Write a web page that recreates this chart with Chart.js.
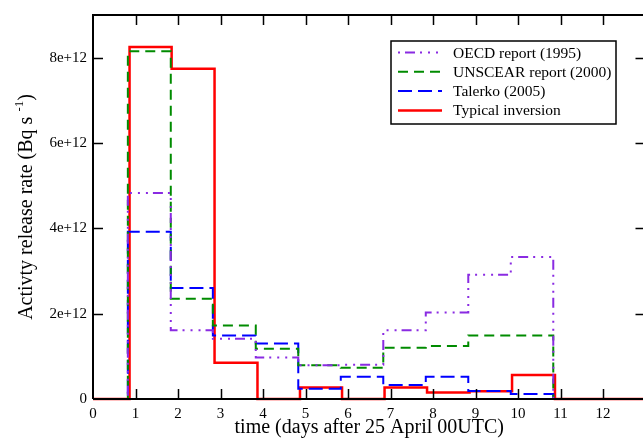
<!DOCTYPE html>
<html>
<head>
<meta charset="utf-8">
<script src="https://cdn.jsdelivr.net/npm/chart.js@4"></script>
<style>
  html, body { margin: 0; padding: 0; background: #fff; overflow: hidden; }
  #wrap { width: 643px; height: 439px; overflow: hidden; }
  canvas { display: block; }
</style>
</head>
<body>
<div id="wrap"><canvas id="c" width="650" height="439"></canvas></div>
<script>
// ---- data (release rates in units of 1e12 Bq/s, per daily bin) ----
const binEdges       = [0, 0.82, 1.83, 2.82, 3.83, 4.83, 5.83, 6.83, 7.83, 8.83, 9.83, 10.83, 13];
const inversionEdges = [0, 0.86, 1.85, 2.86, 3.87, 4.87, 5.86, 6.86, 7.86, 8.86, 9.86, 10.87, 13];
const oecdValues      = [0, 4.83, 1.61, 1.41, 0.97, 0.79, 0.80, 1.61, 2.03, 2.91, 3.33, 0, 0];
const unscearValues   = [0, 8.15, 2.35, 1.72, 1.18, 0.79, 0.73, 1.20, 1.24, 1.49, 1.49, 0, 0];
const talerkoValues   = [0, 3.92, 2.60, 1.49, 1.30, 0.24, 0.52, 0.33, 0.52, 0.19, 0.12, 0, 0];
const inversionValues = [0, 8.25, 7.74, 0.85, 0.00, 0.27, 0.00, 0.27, 0.15, 0.18, 0.56, 0, 0];
const seriesLabels = ['OECD report (1995)', 'UNSCEAR report (2000)', 'Talerko (2005)', 'Typical inversion'];
const xTickValues = [0,1,2,3,4,5,6,7,8,9,10,11,12];
const yTickValues = [0, 2e12, 4e12, 6e12, 8e12];
const yTickLabels = ['0', '2e+12', '4e+12', '6e+12', '8e+12'];
const xTitle = 'time (days after 25 April 00UTC)';
const yTitleMain = 'Activty release rate (Bq s';
const yTitleSup = '-1';
const yTitleEnd = ')';

const SCALE = 1e12;
// value i holds on the interval [edge i, edge i+1]
function pts(edges, vals) {
  return edges.map((x, i) => ({ x: x, y: vals[i] * SCALE }));
}

const SERIF = '"Liberation Serif", "Times New Roman", serif';

const framePlugin = {
  id: 'frame',
  afterDraw(chart) {
    const ctx = chart.ctx;
    const a = chart.chartArea;
    const xs = chart.scales.x, ys = chart.scales.y;
    ctx.save();
    ctx.strokeStyle = '#000';
    ctx.lineWidth = 2;
    ctx.beginPath();
    ctx.moveTo(a.left, a.bottom); ctx.lineTo(a.left, a.top); ctx.lineTo(a.right, a.top); ctx.lineTo(a.right, a.bottom); ctx.lineTo(a.left, a.bottom);
    ctx.stroke();
    ctx.lineWidth = 1.5;
    ctx.beginPath();
    xTickValues.forEach(v => {
      const px = Math.round(xs.getPixelForValue(v)) + 0.5;
      if (v === 0) return;
      ctx.moveTo(px, a.bottom); ctx.lineTo(px, a.bottom - 10);
      ctx.moveTo(px, a.top); ctx.lineTo(px, a.top + 10);
    });
    yTickValues.forEach(v => {
      const py = Math.round(ys.getPixelForValue(v)) + 0.5;
      if (v === 0) return;
      ctx.moveTo(a.left, py); ctx.lineTo(a.left + 10, py);
      ctx.moveTo(a.right, py); ctx.lineTo(a.right - 10, py);
    });
    ctx.stroke();

    ctx.fillStyle = '#000';
    ctx.font = '20px ' + SERIF;
    ctx.textAlign = 'center';
    ctx.textBaseline = 'alphabetic';
    ctx.fillText(xTitle, (a.left + a.right) / 2, 433);

    ctx.save();
    ctx.translate(32, (a.top + a.bottom) / 2);
    ctx.rotate(-Math.PI / 2);
    ctx.font = '20px ' + SERIF;
    const w1 = ctx.measureText(yTitleMain + ' ').width;
    ctx.font = '13px ' + SERIF;
    const w2 = ctx.measureText(yTitleSup).width;
    ctx.font = '20px ' + SERIF;
    const w3 = ctx.measureText(yTitleEnd).width;
    let x0 = -(w1 + w2 + w3) / 2;
    ctx.textAlign = 'left';
    ctx.fillText(yTitleMain, x0, 0);
    ctx.font = '13px ' + SERIF;
    ctx.fillText(yTitleSup, x0 + w1, -9);
    ctx.font = '20px ' + SERIF;
    ctx.fillText(yTitleEnd, x0 + w1 + w2, 0);
    ctx.restore();

    const bx = 391, by = 41, bw = 225, bh = 83;
    ctx.fillStyle = '#fff';
    ctx.fillRect(bx, by, bw, bh);
    ctx.strokeStyle = '#000';
    ctx.lineWidth = 1.5;
    ctx.strokeRect(bx, by, bw, bh);
    ctx.font = '15.5px ' + SERIF;
    ctx.textAlign = 'left';
    ctx.textBaseline = 'middle';
    chart.data.datasets.forEach((ds, i) => {
      const y = 52.5 + i * 19.3;
      ctx.save();
      ctx.strokeStyle = ds.borderColor;
      ctx.lineWidth = ds.borderWidth;
      ctx.setLineDash(ds.borderDash || []);
      ctx.lineDashOffset = ds.legendDashOffset || 0;
      ctx.beginPath();
      ctx.moveTo(398, y); ctx.lineTo(442, y);
      ctx.stroke();
      ctx.restore();
      ctx.fillStyle = '#000';
      ctx.fillText(ds.label, 453, y + 1);
    });
    ctx.restore();
  }
};

const common = { pointRadius: 0, stepped: 'before', fill: false, borderWidth: 2, clip: false, tension: 0 };

new Chart(document.getElementById('c'), {
  type: 'line',
  data: {
    datasets: [
      Object.assign({ label: seriesLabels[0], data: pts(binEdges, oecdValues), borderColor: '#8a2be2', borderDash: [10, 5, 2, 6, 2, 6, 2, 5], legendDashOffset: 31 }, common),
      Object.assign({ label: seriesLabels[1], data: pts(binEdges, unscearValues), borderColor: '#008b00', borderDash: [10, 6] }, common),
      Object.assign({ label: seriesLabels[2], data: pts(binEdges, talerkoValues), borderColor: '#0000ff', borderDash: [14, 6] }, common),
      Object.assign({ label: seriesLabels[3], data: pts(inversionEdges, inversionValues), borderColor: '#ff0000' }, common, { borderWidth: 2.5 })
    ]
  },
  options: {
    responsive: false,
    animation: false,
    devicePixelRatio: 1,
    layout: { padding: { left: 0, top: 13, right: 4.5, bottom: 0 } },
    plugins: { legend: { display: false }, tooltip: { enabled: false } },
    scales: {
      x: {
        type: 'linear', min: 0, max: 13,
        grid: { display: false, drawTicks: false },
        border: { display: false },
        afterFit(s) { s.height = 40; },
        afterBuildTicks(s) { s.ticks = xTickValues.map(v => ({ value: v })); },
        ticks: {
          autoSkip: false, maxRotation: 0, padding: 6, color: '#000',
          font: { family: SERIF, size: 15 },
          callback: (v) => String(v)
        }
      },
      y: {
        type: 'linear', min: 0, max: 9e12,
        grid: { display: false, drawTicks: false },
        border: { display: false },
        afterFit(s) { s.width = 93; },
        afterBuildTicks(s) { s.ticks = yTickValues.map(v => ({ value: v })); },
        ticks: {
          padding: 6, color: '#000',
          font: { family: SERIF, size: 15 },
          callback: (v) => { const i = yTickValues.indexOf(v); return i >= 0 ? yTickLabels[i] : ''; }
        }
      }
    }
  },
  plugins: [framePlugin]
});
</script>
</body>
</html>
